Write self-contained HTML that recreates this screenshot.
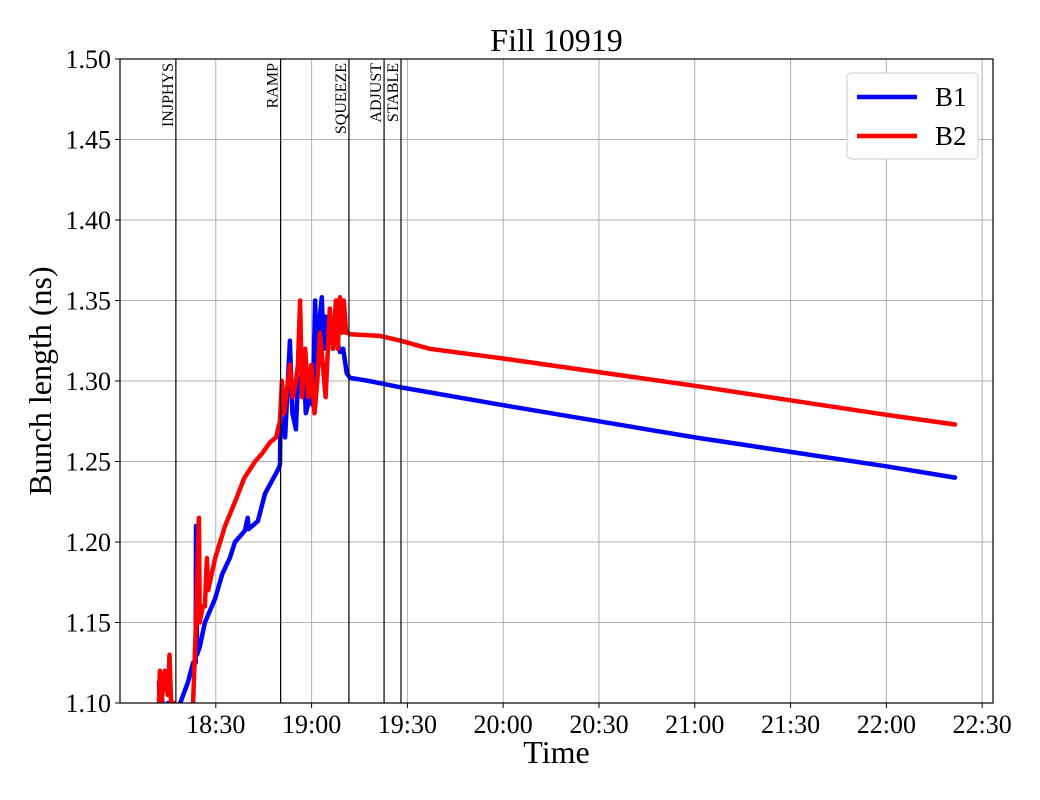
<!DOCTYPE html>
<html><head><meta charset="utf-8"><style>
body{margin:0;background:#fff}
svg{display:block;font-family:"Liberation Serif",serif}
</style></head><body>
<svg id="chart" width="1040" height="800"></svg>
<script>
const xTickLabels=["18:30","19:00","19:30","20:00","20:30","21:00","21:30","22:00","22:30"];
const xTickMinutes=[30,60,90,120,150,180,210,240,270];
const yTicks=[1.10,1.15,1.20,1.25,1.30,1.35,1.40,1.45,1.50];
const eventNames=["INJPHYS","RAMP","SQUEEZE","ADJUST","STABLE"];
const eventMinutes=[17.5,50.3,71.7,82.7,88];
const b1Time=[12.2,12.5,13,14,15,17,21.3,22.9,23.7,23.8,24.1,25,26.6,29.8,32,34.4,36,39.1,40,40.3,43.2,45.4,49.5,50.1,50.3,51.7,53.2,54,55.1,55.7,56.4,57.6,58.2,59.5,60.4,61.1,61.7,62.6,63.2,63.8,64.4,65.7,67.3,68.9,69.9,71,72,78,88,120,180,240,261.5];
const b1Val=[1.113,1.09,1.105,1.09,1.10,1.09,1.113,1.125,1.125,1.21,1.13,1.135,1.15,1.165,1.18,1.19,1.20,1.207,1.215,1.208,1.213,1.23,1.245,1.248,1.28,1.265,1.325,1.28,1.27,1.30,1.30,1.31,1.28,1.29,1.285,1.35,1.31,1.34,1.352,1.32,1.34,1.335,1.33,1.318,1.32,1.305,1.302,1.3,1.296,1.285,1.265,1.247,1.240];
const b2Time=[12.2,12.5,13,14,15,15.5,16,17,17.5,22.9,23.8,24.7,25,25.9,26.6,27.2,27.6,29.8,32.9,36,39,42.3,44.5,47,48.9,50.1,50.7,51.4,52.6,53.2,54.1,55.1,55.7,56.4,57,58,59,59.9,60.9,61.8,62.6,63.5,64.4,65.1,65.7,66.7,67.6,68.2,68.9,69.5,70.1,70.8,71.4,72,81.4,88,97,120,180,240,261.5];
const b2Val=[1.10,1.12,1.10,1.12,1.105,1.13,1.10,1.10,1.05,1.10,1.15,1.215,1.15,1.16,1.16,1.19,1.17,1.19,1.21,1.225,1.24,1.25,1.255,1.262,1.265,1.275,1.30,1.28,1.30,1.31,1.29,1.30,1.31,1.35,1.29,1.32,1.29,1.31,1.28,1.30,1.33,1.31,1.29,1.32,1.345,1.32,1.35,1.32,1.352,1.33,1.35,1.33,1.33,1.329,1.328,1.325,1.320,1.314,1.297,1.279,1.273];

const NS="http://www.w3.org/2000/svg";
const svg=document.getElementById('chart');
const L=120,R=993,T=59,B=703;
const xs=m=>L+m*(R-L)/273.4;
const ys=v=>B-(v-1.10)*(B-T)/0.40;
function el(tag,attrs,parent){const e=document.createElementNS(NS,tag);for(const k in attrs)e.setAttribute(k,attrs[k]);(parent||svg).appendChild(e);return e;}
const defs=el('defs',{});
const cp=el('clipPath',{id:'clip'},defs);
el('rect',{x:L,y:T,width:R-L,height:B-T},cp);

const grid=el('g',{});


xTickMinutes.forEach((m,i)=>{
  const x=xs(m);
  el('line',{x1:x,x2:x,y1:T,y2:B,stroke:'#b0b0b0','stroke-width':1},grid);
  el('line',{x1:x,x2:x,y1:B,y2:B+5,stroke:'#000'});
  const lab=el('text',{x:x,y:B+30,'text-anchor':'middle','font-size':26});
  lab.textContent=xTickLabels[i];
  
  
});
yTicks.forEach(v=>{
  const y=ys(v);
  el('line',{x1:L,x2:R,y1:y,y2:y,stroke:'#b0b0b0','stroke-width':1},grid);
  el('line',{x1:L-5,x2:L,y1:y,y2:y,stroke:'#000'});
  const lab=el('text',{x:L-9,y:y+9,'text-anchor':'end','font-size':26});
  lab.textContent=v.toFixed(2);
  
  
});
function series(times,vals,color,name){
  const d=times.map((t,i)=>(i?'L':'M')+xs(t).toFixed(1)+','+ys(vals[i]).toFixed(1)).join('');
  const p=el('path',{d:d,fill:'none',stroke:color,'stroke-width':4.5,'stroke-linejoin':'round','stroke-linecap':'round','clip-path':'url(#clip)'});
  
  
}
series(b1Time,b1Val,'#0000ff','series-b1');
series(b2Time,b2Val,'#ff0000','series-b2');
eventMinutes.forEach((m,i)=>{
  const x=xs(m);
  const ln=el('line',{x1:x,x2:x,y1:T,y2:B,stroke:'#000','stroke-width':1.2});
  
  
  const tx=el('text',{x:0,y:0,'font-size':16,'text-anchor':'end',transform:`translate(${x-3},${T+4}) rotate(-90)`});
  tx.textContent=eventNames[i];
  
  
});
const frame=el('rect',{x:L,y:T,width:R-L,height:B-T,fill:'none',stroke:'#000','stroke-width':1.2});


const title=el('text',{x:(L+R)/2,y:51,'text-anchor':'middle','font-size':32});
title.textContent='Fill 10919';


const xt=el('text',{x:(L+R)/2,y:763,'text-anchor':'middle','font-size':32});
xt.textContent='Time';


const yt=el('text',{x:0,y:0,'text-anchor':'middle','font-size':32,transform:`translate(51,${(T+B)/2}) rotate(-90)`});
yt.textContent='Bunch length (ns)';


const lg=el('g',{});


el('rect',{x:847,y:73,width:131,height:86,rx:4,fill:'#fff',stroke:'#ccc'},lg);
[['B1','#0000ff',97],['B2','#ff0000',136]].forEach(([n,c,y])=>{
  el('line',{x1:857,x2:917,y1:y,y2:y,stroke:c,'stroke-width':4.5},lg);
  const t=el('text',{x:935,y:y+9,'font-size':27},lg);
  t.textContent=n;
  
  
});
</script>
</body></html>
